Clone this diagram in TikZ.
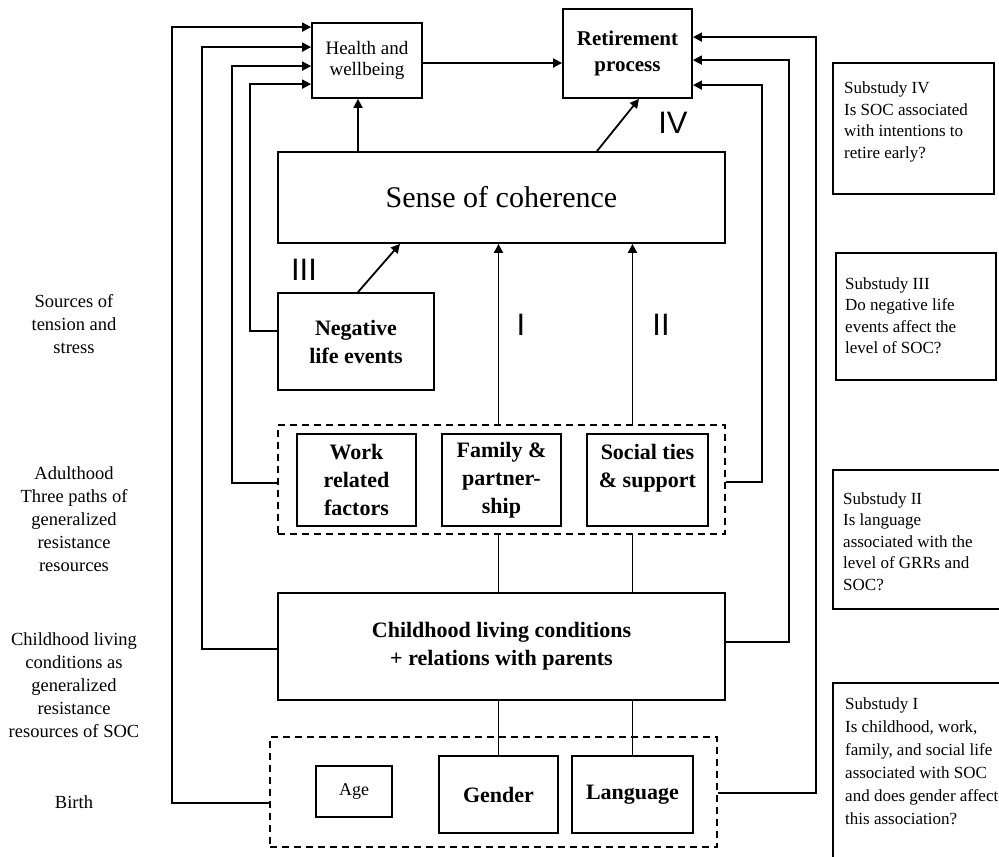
\documentclass[tikz,border=0pt]{standalone}
\usepackage{fontspec}
\setmainfont{Liberation Serif}
\newfontfamily\numfont{Liberation Sans}
\usetikzlibrary{arrows.meta,calc}
\begin{document}
\begin{tikzpicture}[x=1pt,y=-1pt,
  lw/.style={line width=1.8pt},
  bx/.style={draw,lw,inner sep=0pt,align=center},
  dbx/.style={draw,line width=1.8pt,dash pattern=on 7pt off 5pt,inner sep=0pt},
  arr/.style={lw,-{Triangle[length=9pt,width=9pt]}},
  ln/.style={lw},
  bft/.style={font=\fontsize{22}{28}\selectfont\bfseries},
  subt/.style={inner sep=0pt,align=left,anchor=north west,font=\fontsize{17}{21.5}\selectfont},
  leftt/.style={inner sep=0pt,align=center,anchor=north,font=\fontsize{18.5}{23}\selectfont},
  numt/.style={inner sep=0pt,font=\numfont\fontsize{31}{31}\selectfont}]
\useasboundingbox (0,0) rectangle (999,857);
\fill[white] (0,0) rectangle (999,857);

% main boxes
\node[bx,minimum width=110pt,minimum height=75pt,font=\fontsize{19}{21.5}\selectfont] (health) at (367,60.5) {Health and\\wellbeing};
\node[bx,minimum width=129pt,minimum height=89pt,font=\fontsize{21}{26}\selectfont\bfseries] (retire) at (627.5,53.5) {Retirement\\process};
\node[bx,minimum width=447pt,minimum height=91pt,font=\fontsize{30}{34}\selectfont] (soc) at (501.5,197.5) {Sense of coherence};
\node[bx,bft,minimum width=156pt,minimum height=97pt] (neg) at (356,341.5) {Negative\\life events};
\node[dbx,minimum width=447pt,minimum height=109pt] (adult) at (501.5,479.5) {};
\node[bx,bft,minimum width=119pt,minimum height=92pt] (work) at (356.5,480) {Work\\related\\factors};
\node[bx,bft,minimum width=119pt,minimum height=92pt] (family) at (501.5,480) {Family \&\\partner-\\ship};
\node[bx,bft,minimum width=121pt,minimum height=92pt] (social) at (647.5,480) {Social ties\\\& support\\~};
\node[bx,bft,minimum width=447pt,minimum height=107pt] (child) at (501.5,646.5) {Childhood living conditions\\+ relations with parents};
\node[dbx,minimum width=447pt,minimum height=110pt] (bg) at (493.5,792) {};
\node[bx,minimum width=76pt,minimum height=51pt,font=\fontsize{18}{20}\selectfont] (age) at (354,791.5) {Age};
\node[bx,bft,minimum width=119pt,minimum height=77pt] (gender) at (498.5,794.5) {Gender};
\node[bx,bft,minimum width=121pt,minimum height=77pt] (lang) at (632.5,794.5) {Language};

% substudy boxes
\node[draw,lw,minimum width=161pt,minimum height=131pt] (sub4) at (913.5,128.5) {};
\node[draw,lw,minimum width=160pt,minimum height=127pt] (sub3) at (916,316.5) {};
\node[draw,lw,minimum width=172pt,minimum height=139pt] (sub2) at (919,539.5) {};
\node[draw,lw,minimum width=172pt,minimum height=187pt] (sub1) at (919,776.5) {};
\node[subt] (t4) at (844,82) {Substudy IV\\Is SOC associated\\with intentions to\\retire early?};
\node[subt] (t3) at (845,277) {Substudy III\\Do negative life\\events affect the\\level of SOC?};
\node[subt] (t2) at (843,492) {Substudy II\\Is language\\associated with the\\level of GRRs and\\SOC?};
\node[subt,font=\fontsize{17}{23}\selectfont] (t1) at (845,697) {Substudy I\\Is childhood, work,\\family, and social life\\associated with SOC\\and does gender affect\\this association?};

% left labels
\node[leftt] (l1) at (74,294) {Sources of\\tension and\\stress};
\node[leftt] (l2) at (74,466) {Adulthood\\Three paths of\\generalized\\resistance\\resources};
\node[leftt] (l3) at (74,632) {Childhood living\\conditions as\\generalized\\resistance\\resources of SOC};
\node[inner sep=0pt,font=\fontsize{18.5}{23}\selectfont] (l4) at (74,802) {Birth};

% roman numerals
\node[numt] (n3) at (304,270) {III};
\node[numt] (n4) at (673,123) {IV};
\node[numt] (n1) at (521,325) {I};
\node[numt] (n2) at (661,325) {II};

% connectors
\coordinate (h2r) at ([yshift=-2.5pt]health.east);
\draw[arr] (h2r) -- (h2r -| retire.west);
\coordinate (sh) at ([xshift=-9pt]health.south);
\draw[arr] (sh |- soc.north) -- (sh);
\draw[arr] ([xshift=95.5pt]soc.north) -- ([xshift=11.5pt]retire.south);
\draw[arr] ([xshift=2pt]neg.north) -- ([xshift=-101.5pt]soc.south);
\draw[arr] (adult.north -| gender.north) -- (soc.south -| gender.north);
\draw[arr] (adult.north -| lang.north) -- (soc.south -| lang.north);
\draw[ln] (child.north -| gender.north) -- (adult.south -| gender.north);
\draw[ln] (child.north -| lang.north) -- (adult.south -| lang.north);
\draw[ln] (child.south -| gender.north) -- (gender.north);
\draw[ln] (child.south -| lang.north) -- (lang.north);

% left feedback connectors
\draw[arr] ([yshift=-11pt]bg.west) -- ++(-97,0) |- ([yshift=-5pt]health.north west);
\draw[arr] ([yshift=-2.5pt]child.west) -- ++(-75,0) |- ([yshift=-25pt]health.north west);
\draw[arr] ([yshift=-3.5pt]adult.west) -- ++(-45,0) |- ([yshift=-44pt]health.north west);
\draw[arr] ([yshift=10.5pt]neg.west) -- ++(-27,0) |- ([yshift=-62pt]health.north west);
% right feedback connectors
\draw[arr] ([yshift=-1pt]bg.east) -- ++(98,0) |- ([yshift=-29pt]retire.north east);
\draw[arr] ([yshift=4.5pt]child.east) -- ++(63,0) |- ([yshift=-52pt]retire.north east);
\draw[arr] ([yshift=-2.5pt]adult.east) -- ++(36,0) |- ([yshift=-77pt]retire.north east);
\end{tikzpicture}
\end{document}
